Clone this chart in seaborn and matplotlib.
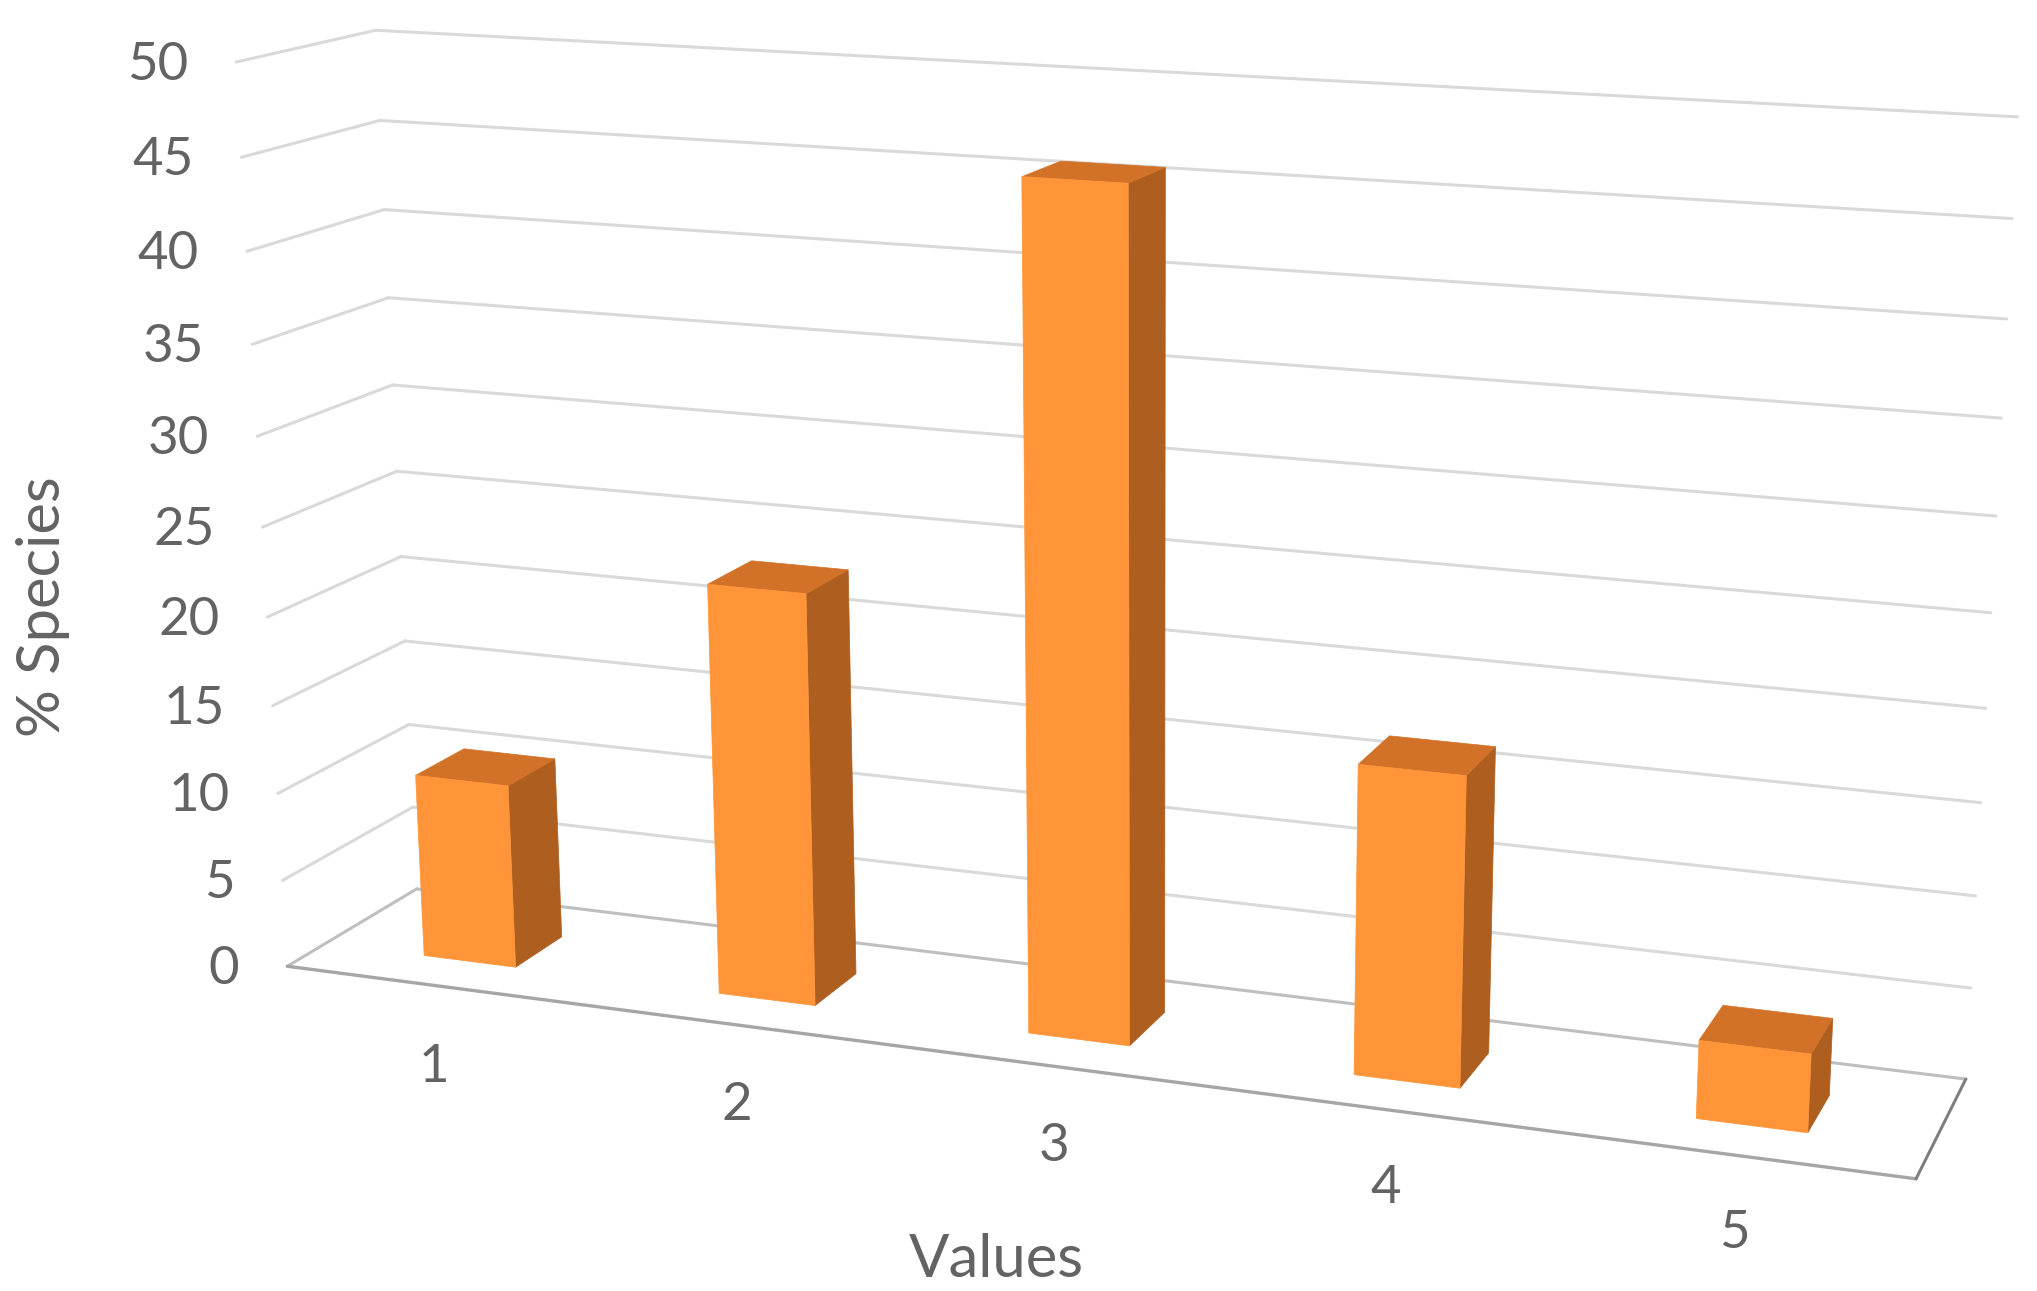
import numpy as np
import pandas as pd
import matplotlib
matplotlib.use("Agg")
import matplotlib.pyplot as plt
import matplotlib.transforms as mtransforms
from matplotlib.patches import Polygon
from matplotlib.lines import Line2D
import seaborn as sns

# ---- data ----
categories = ["1", "2", "3", "4", "5"]
values = [10.5, 23, 45.8, 16.8, 4.2]
y_ticks = [0, 5, 10, 15, 20, 25, 30, 35, 40, 45, 50]
x_title = "Values"
y_title = "% Species"

# ---- style ----
W, H = 2037, 1291
S = 2037 / 1568
FRONT, SIDE, TOP = "#FF9538", "#AE5E1E", "#D17228"
GRID, TXT = "#D9D9D9", "#636363"
FONT = "Lato"

# ---- camera calibration: frame corners (x, depth, value) -> pixel in 1568-wide view ----
x0, x1 = -0.5, 4.5
calib = [
    ((x0, 0, 0), (220, 743)), ((x1, 0, 0), (1475, 908)),
    ((x1, 1, 0), (1513, 830)), ((x0, 1, 0), (322, 685)),
    ((x0, 0, 50), (183, 48)), ((x0, 1, 50), (288, 23)),
    ((x1, 1, 50), (1553, 90)),
]
rows = []
for (x, d, v), (px, py) in calib:
    X = np.array([x, d, v / 10, 1.0])
    px, py = px * S, py * S
    rows.append(np.r_[X, np.zeros(4), -px * X])
    rows.append(np.r_[np.zeros(4), X, -py * X])
P = np.linalg.svd(np.array(rows))[2][-1].reshape(3, 4)


def project(x, d, v):
    x, d, v = np.broadcast_arrays(np.asarray(x, float), np.asarray(d, float), np.asarray(v, float))
    q = P @ np.stack([x, d, v / 10, np.ones_like(x)])
    return np.stack([q[0] / q[2], H - q[1] / q[2]], axis=-1)


class PlaneTransform(mtransforms.Transform):
    """Maps (category position, value) on a plane of constant depth to display pixels."""
    input_dims = output_dims = 2
    is_separable = False
    has_inverse = False

    def __init__(self, plane_depth):
        super().__init__()
        self.plane_depth = plane_depth

    def transform_non_affine(self, values):
        values = np.asarray(values, float)
        return project(values[:, 0], self.plane_depth, values[:, 1])


sns.set_theme(style="white")
fig = plt.figure(figsize=(W / 100, H / 100), dpi=100, facecolor="white")
ax = fig.add_axes([0, 0, 1, 1])

D0, D1 = 0.29, 0.67
df = pd.DataFrame({"cat": categories, "val": values})
sns.barplot(data=df, x="cat", y="val", color=FRONT, saturation=1, width=0.315, ax=ax,
            edgecolor=FRONT, linewidth=0.5, zorder=5)
ax.set_axis_off()
ax.set_xlim(x0, x1)
ax.set_ylim(0, 50)

front = PlaneTransform(D0)
back = PlaneTransform(1.0)
ident = mtransforms.IdentityTransform()

# frame
for t in y_ticks:
    col = "#BFBFBF" if t == 0 else GRID
    ax.add_line(Line2D([x0, x1], [t, t], transform=back, color=col, lw=2.2, clip_on=False, zorder=1))
    ends = project([x0, x0], [0, 1], [t, t])
    ax.add_line(Line2D(ends[:, 0], ends[:, 1], transform=ident, color=col, lw=2.2, clip_on=False, zorder=1))
    px, py = project(x0, 0, t)
    ax.text(px - 37 * S, py - 2.5 * S, str(t), transform=ident, ha="right", va="center",
            fontsize=38, color=TXT, family=FONT, clip_on=False)

edge = project([x0, x1, x1], [0, 0, 1], [0, 0, 0])
ax.add_line(Line2D(edge[:2, 0], edge[:2, 1], transform=ident, color="#A6A6A6", lw=2.4, clip_on=False, zorder=2))
ax.add_line(Line2D(edge[1:, 0], edge[1:, 1], transform=ident, color="#7F7F7F", lw=2.2, clip_on=False, zorder=2))

# bars: the seaborn rectangles become the front faces; side and top faces extend them in depth
for patch in ax.patches:
    a, b = patch.get_x(), patch.get_x() + patch.get_width()
    v = patch.get_height()
    patch.set_transform(front)
    patch.set_clip_on(False)
    side = project([b, b, b, b], [D0, D1, D1, D0], [0, 0, v, v])
    top = project([a, b, b, a], [D0, D0, D1, D1], [v, v, v, v])
    for pts, c in ((side, SIDE), (top, TOP)):
        ax.add_patch(Polygon(pts, closed=True, transform=ident,
                             facecolor=c, edgecolor=c, lw=0.5, clip_on=False, zorder=4))

# category labels
for i, c in enumerate(categories):
    px, py = project(0.345 + 0.944 * i, -0.77 + 0.025 * i, 0)
    ax.text(px, py, c, transform=ident, ha="center", va="center",
            fontsize=38, color=TXT, family=FONT, clip_on=False)

fig.text(767 * S / W, 1 - 970 * S / H, x_title, ha="center", va="center", fontsize=43, color=TXT, family=FONT)
fig.text(33 * S / W, 1 - 467 * S / H, y_title, ha="center", va="center", rotation=90, fontsize=43, color=TXT, family=FONT)

fig.savefig("out.png", dpi=100, facecolor="white")
